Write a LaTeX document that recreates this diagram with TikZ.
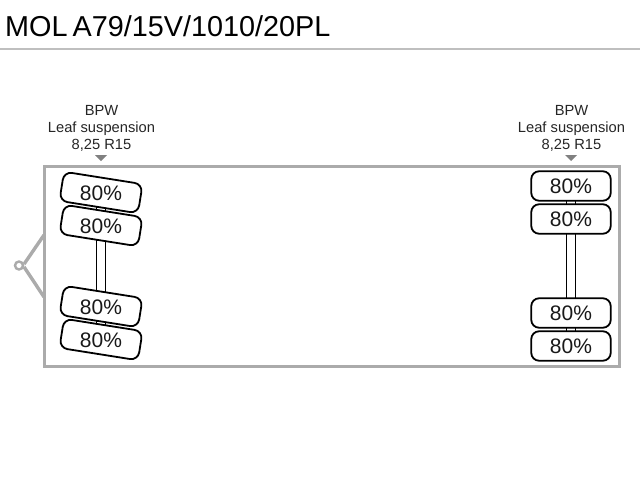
\documentclass[tikz,border=0pt]{standalone}
\usepackage{fontspec}
\setmainfont{Liberation Sans}
\usetikzlibrary{backgrounds}
\tikzset{
  tyre/.style={draw=black,fill=white,line width=1.8pt,rounded corners=8pt,minimum width=79.5pt,minimum height=29.5pt,inner sep=0pt,outer sep=0pt},
  pct/.style={font=\fontsize{21}{21}\selectfont,inner sep=0pt,text=black!90},
  axleinfo/.style={font=\fontsize{14.7}{17}\selectfont,align=center,inner sep=0pt,text=black!85},
  axleline/.style={draw=black,line width=0.9pt},
  greyline/.style={draw=black!33,line width=3.4pt},
  axlemark/.style={fill=black!50,draw=none}
}
\begin{document}
\begin{tikzpicture}[x=1pt,y=-1pt]
\useasboundingbox (0,0) rectangle (640,480);
\node[anchor=base west,inner sep=0pt,font=\fontsize{28.8}{28}\selectfont] (title) at (5,36) {MOL\kern-3pt\ A79/15V/1010/20PL};
\coordinate (ruleL) at (0,49); \coordinate (ruleR) at (640,49);
\draw[draw=black!25,line width=1.2pt] (ruleL) -- (ruleR);
% frame
\node[draw=black!33,line width=3pt,minimum width=575pt,minimum height=200pt,inner sep=0pt,outer sep=0pt,anchor=north west] (frame) at (44,166) {};
% drawbar
\node[circle,draw=black!33,line width=2.4pt,minimum size=8pt,inner sep=0pt] (hitch) at (19,265.5) {};
\coordinate (barA) at (44,235); \coordinate (barB) at (44,297);
\draw[greyline] (barA) -- (hitch.15);
\draw[greyline] (barB) -- (hitch.-15);
% left axle
\foreach \n/\y in {a/192.5,b/225.5,c/306.5,d/339.5}{
  \node[tyre,rotate=-9] (\n) at (101,\y) {};
  \node[pct] at (101,\y+1) {80\%};
}
% right axle
\foreach \n/\y in {e/186,f/219,g/313,h/346}{
  \node[tyre] (\n) at (571,\y) {};
  \node[pct] at (571,\y+0.5) {80\%};
}
\begin{pgfonlayer}{background}
\draw[axleline] ([xshift=-4.5pt]a.center) -- ([xshift=-4.5pt]d.center);
\draw[axleline] ([xshift=4.5pt]a.center) -- ([xshift=4.5pt]d.center);
\draw[axleline] ([xshift=-4.5pt]e.center) -- ([xshift=-4.5pt]h.center);
\draw[axleline] ([xshift=4.5pt]e.center) -- ([xshift=4.5pt]h.center);
\end{pgfonlayer}
% labels
\node[axleinfo] (infoL) at (101.5,128) {BPW\\Leaf suspension\\8,25 R15};
\node[axleinfo] (infoR) at (571.5,128) {BPW\\Leaf suspension\\8,25 R15};
\fill[axlemark] (95,155) -- (107,155) -- (101,161) -- cycle;
\fill[axlemark] (565,155) -- (577,155) -- (571,161) -- cycle;
\end{tikzpicture}
\end{document}
